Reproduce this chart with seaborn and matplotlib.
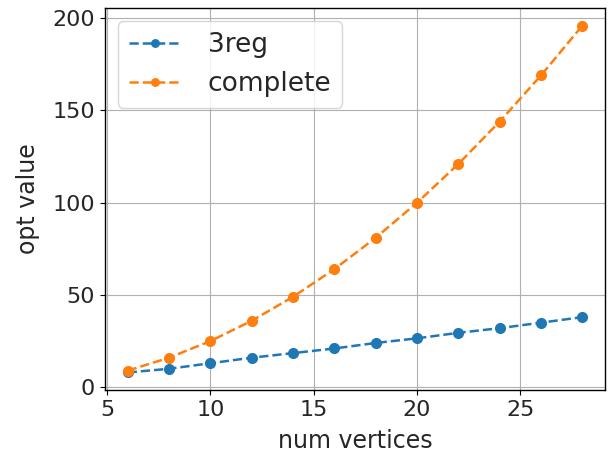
import matplotlib
matplotlib.use("Agg")
import matplotlib.pyplot as plt
import seaborn as sns
import pandas as pd

num_vertices = [6, 8, 10, 12, 14, 16, 18, 20, 22, 24, 26, 28]
reg3_values = [8, 10, 13, 16, 18.5, 21, 24, 26.5, 29.5, 32, 35, 38]
complete_values = [9, 16, 25, 36, 49, 64, 81, 100, 121, 144, 169, 196]

df = pd.DataFrame({
    "num vertices": num_vertices * 2,
    "opt value": reg3_values + complete_values,
    "graph": ["3reg"] * len(num_vertices) + ["complete"] * len(num_vertices),
})

sns.set_style("whitegrid")
plt.rcParams["font.family"] = ["DejaVu Sans"]
plt.rcParams["axes.edgecolor"] = "black"

fig, ax = plt.subplots(figsize=(6.1, 4.57), dpi=100)
colors = {"3reg": "#1f77b4", "complete": "#ff7f0e"}
for name in ["3reg", "complete"]:
    sub = df[df["graph"] == name]
    sns.lineplot(data=sub, x="num vertices", y="opt value", ax=ax, color=colors[name],
                 linestyle="--", marker="o", markersize=8, markeredgewidth=0,
                 linewidth=1.8, label=name)
ax.grid(True, color="#b0b0b0", linewidth=0.8)
for s in ax.spines.values():
    s.set_color("black")
    s.set_linewidth(1.0)
ax.tick_params(axis="both", labelsize=16, left=True, bottom=True, length=3.5,
               color="black", pad=3.5)
ax.set_xlabel("num vertices", fontsize=17, labelpad=7)
ax.set_ylabel("opt value", fontsize=17, labelpad=9)
ax.set_xticks([5, 10, 15, 20, 25])
ax.set_yticks([0, 50, 100, 150, 200])
ax.legend(loc="upper left", fontsize=19, frameon=True, handlelength=2.0,
          handletextpad=1.0, markerscale=0.8)
fig.subplots_adjust(left=0.172, right=0.992, top=0.982, bottom=0.147)
fig.savefig("out.png", dpi=100)
